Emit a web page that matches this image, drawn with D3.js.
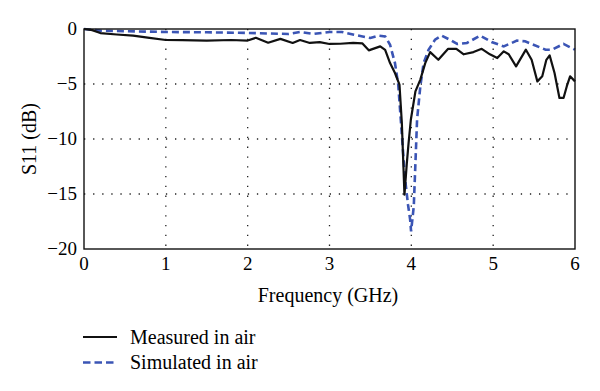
<!DOCTYPE html>
<html><head><meta charset="utf-8"><script src="https://cdn.jsdelivr.net/npm/d3@7"></script></head><body style="margin:0">
<svg id="c" width="600" height="391"></svg>
<script>
const measuredFreq = [0,0.1,0.2,0.4,0.6,0.8,1.0,1.2,1.5,1.8,2.0,2.1,2.25,2.4,2.55,2.64,2.76,2.88,3.0,3.13,3.29,3.4,3.48,3.62,3.68,3.74,3.8,3.855,3.884,3.916,3.945,3.966,3.994,4.05,4.11,4.17,4.23,4.33,4.45,4.55,4.64,4.76,4.86,4.96,5.05,5.13,5.19,5.28,5.4,5.47,5.54,5.6,5.65,5.69,5.75,5.81,5.86,5.9,5.94,6.0];
const measuredS11 = [0,-0.1,-0.37,-0.5,-0.6,-0.8,-1.0,-1.02,-1.06,-1.0,-1.05,-0.8,-1.25,-0.9,-1.27,-1.0,-1.27,-1.2,-1.36,-1.34,-1.27,-1.3,-1.94,-1.58,-1.9,-3.1,-4.0,-5.06,-8.55,-15.06,-12.2,-10.4,-8.25,-5.67,-4.6,-3.1,-2.1,-2.8,-1.8,-1.8,-2.3,-2.1,-1.8,-2.3,-2.64,-2.03,-2.3,-3.4,-1.88,-2.8,-4.76,-4.3,-2.8,-2.4,-4.0,-6.27,-6.27,-5.2,-4.3,-4.76];
const simFreq = [0,0.2,0.5,1.0,1.5,2.0,2.5,2.64,2.8,3.0,3.15,3.3,3.5,3.6,3.68,3.74,3.8,3.84,3.88,3.92,3.96,3.985,3.997,4.03,4.05,4.07,4.11,4.15,4.21,4.29,4.37,4.47,4.56,4.68,4.84,4.98,5.13,5.29,5.39,5.64,5.72,5.86,6.0];
const simS11 = [0,-0.15,-0.2,-0.27,-0.3,-0.36,-0.45,-0.27,-0.45,-0.27,-0.27,-0.52,-0.82,-0.6,-0.67,-1.43,-3.1,-5.06,-9.15,-13.4,-16,-17.3,-18.4,-16.1,-12.2,-8.25,-5.2,-3.1,-1.9,-0.97,-0.6,-0.97,-1.36,-1.27,-0.6,-1.18,-1.58,-1.06,-1.12,-1.88,-1.88,-1.36,-1.88];
const xTicks = [0,1,2,3,4,5,6];
const yTicks = [0,-5,-10,-15,-20];
const seriesNames = ["Measured in air","Simulated in air"];

const FONT = "Liberation Serif";
const svg = d3.select("#c");
const L=84,R=575,T=29,B=249;
const x = d3.scaleLinear().domain([0,6]).range([L,R]);
const y = d3.scaleLinear().domain([-20,0]).range([B,T]);

svg.selectAll(".vg").data(xTicks.slice(1,-1)).enter().append("line")
  .attr("x1",d=>x(d)).attr("x2",d=>x(d)).attr("y1",T).attr("y2",B)
  .attr("stroke","#222").attr("stroke-width",1.3).attr("stroke-dasharray","1.3,8.5");
svg.selectAll(".hg").data(yTicks.slice(1,-1)).enter().append("line")
  .attr("y1",d=>y(d)).attr("y2",d=>y(d)).attr("x1",L).attr("x2",R)
  .attr("stroke","#222").attr("stroke-width",1.3).attr("stroke-dasharray","1.3,7.8");

// tick labels drawn from the scales
svg.selectAll(".xt").data(xTicks).enter().append("text")
  .attr("x",d=>x(d)).attr("y",B+21).attr("text-anchor","middle")
  .attr("font-family",FONT).attr("font-size",19).text(d=>d);
svg.selectAll(".yt").data(yTicks).enter().append("text")
  .attr("x",L-7).attr("y",d=>y(d)+6).attr("text-anchor","end")
  .attr("font-family",FONT).attr("font-size",19).text(d=>d<0?"\u2212"+Math.abs(d):d);

const line = d3.line().x(d=>x(d[0])).y(d=>y(d[1]));
svg.append("path").datum(simFreq.map((f,i)=>[f,simS11[i]])).attr("d",line)
  .attr("fill","none").attr("stroke","#3b55b5").attr("stroke-width",2.6).attr("stroke-dasharray","7,4");
svg.append("path").datum(measuredFreq.map((f,i)=>[f,measuredS11[i]])).attr("d",line)
  .attr("fill","none").attr("stroke","#111").attr("stroke-width",2.2).attr("stroke-linejoin","round");

svg.append("rect").attr("x",L).attr("y",T).attr("width",R-L).attr("height",B-T)
  .attr("fill","none").attr("stroke","#111").attr("stroke-width",1.4);

svg.append("text").attr("x",328).attr("y",302).attr("text-anchor","middle")
  .attr("font-family",FONT).attr("font-size",20).text("Frequency (GHz)");
svg.append("text").attr("transform","translate(36,139) rotate(-90)").attr("text-anchor","middle")
  .attr("font-family",FONT).attr("font-size",20).text("S11 (dB)");

const styles=[{c:"#111",w:2.2,da:null},{c:"#3b55b5",w:2.6,da:"7.5,4"}];
seriesNames.forEach((n,i)=>{
  const yy=337+i*25.5;
  svg.append("line").attr("x1",83).attr("x2",117).attr("y1",yy).attr("y2",yy)
    .attr("stroke",styles[i].c).attr("stroke-width",styles[i].w).attr("stroke-dasharray",styles[i].da);
  svg.append("text").attr("x",130).attr("y",yy+6.5)
    .attr("font-family",FONT).attr("font-size",20).text(n);
});
</script></body></html>
